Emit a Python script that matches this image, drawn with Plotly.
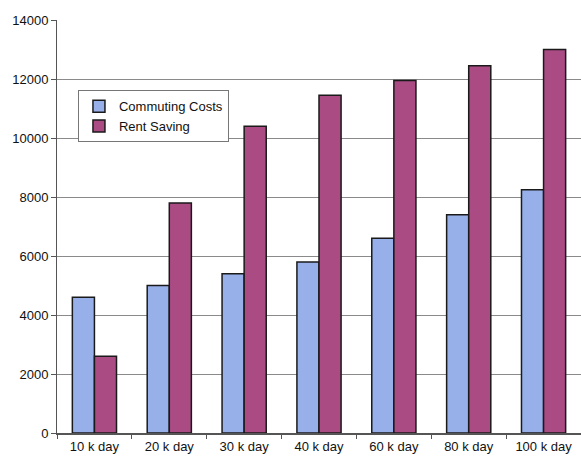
import plotly.graph_objects as go

categories = ["10 k day", "20 k day", "30 k day", "40 k day", "60 k day", "80 k day", "100 k day"]
commuting_costs = [4600, 5000, 5400, 5800, 6600, 7400, 8250]
rent_saving = [2600, 7800, 10400, 11450, 11950, 12450, 13000]
y_ticks = [0, 2000, 4000, 6000, 8000, 10000, 12000, 14000]

fig = go.Figure()
fig.add_trace(go.Bar(name="Commuting Costs", x=categories, y=commuting_costs,
                     marker=dict(color="#98B0EA", line=dict(color="#1a1a1a", width=1.5))))
fig.add_trace(go.Bar(name="Rent Saving", x=categories, y=rent_saving,
                     marker=dict(color="#AA4B84", line=dict(color="#1a1a1a", width=1.5))))

font = dict(family="Liberation Sans, Arial, sans-serif", size=13, color="#111111")
fig.update_layout(
    width=581, height=456,
    margin=dict(l=57, r=0, t=20, b=23),
    paper_bgcolor="white", plot_bgcolor="white",
    barmode="group", bargap=0.41, bargroupgap=0,
    font=font,
    showlegend=True,
    legend=dict(x=0.04, y=0.83, xanchor="left", yanchor="top",
                bgcolor="white", bordercolor="#777777", borderwidth=1,
                font=dict(family="Liberation Sans, Arial, sans-serif", size=13, color="#111111"),
                itemwidth=30, tracegroupgap=0),
)
fig.update_yaxes(range=[0, 14000], tickvals=y_ticks, ticktext=[str(v) for v in y_ticks],
                 showgrid=True, gridcolor="#8a8a8a", gridwidth=1,
                 showline=True, linecolor="#555555", linewidth=1,
                 ticks="outside", ticklen=5, tickcolor="#555555",
                 zeroline=False, tickfont=font, automargin=False)
fig.update_xaxes(showline=True, linecolor="#555555", linewidth=1.5,
                 ticks="outside", ticklen=4, tickcolor="#555555", tickson="boundaries",
                 ticklabelstandoff=1, automargin=False,
                 showgrid=False, tickfont=font)

fig.write_html("out.html")
